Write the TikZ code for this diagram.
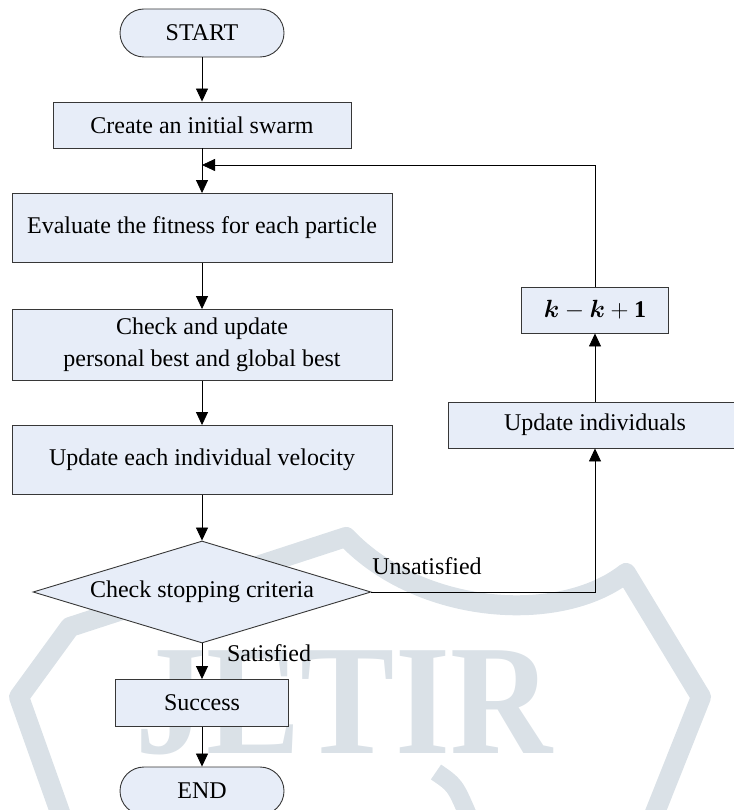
\documentclass[tikz,border=0pt]{standalone}
\usepackage{fontspec}
\setmainfont{Liberation Serif}
\usepackage{amsmath}
\usetikzlibrary{shapes.geometric,arrows.meta}
\definecolor{boxfill}{RGB}{231,237,248}
\definecolor{boxline}{RGB}{55,55,55}
\definecolor{wmark}{RGB}{218,225,231}
\tikzset{psobox/.style={draw=boxline,fill=boxfill,line width=0.9pt,inner sep=0pt,
    align=center,font=\fontsize{24}{32}\selectfont}}
\tikzset{psoterm/.style={psobox,rounded corners=24pt}}
\tikzset{psodec/.style={psobox,diamond,aspect=3.3}}
\tikzset{psolabel/.style={font=\fontsize{24}{28}\selectfont}}

\begin{document}
\begin{tikzpicture}[x=1pt,y=-1pt,line width=0.8pt,>={Triangle[length=13pt,width=12pt]}]
  \useasboundingbox (0,0) rectangle (733,810);

  % watermark
  \draw[wmark,line width=20pt,line join=round]
    (61,815) -- (19,697) -- (70,627) -- (346,537)
    .. controls (420,615) and (560,625) .. (626,573) -- (701,697) -- (654,815);
  \draw[wmark,line width=18pt] (436,772) .. controls (455,785) .. (468,815);
  \node[wmark,anchor=base,xscale=0.9,font=\bfseries\fontsize{157}{157}\selectfont] (mark) at (344,753) {JETIR};

  \node[psoterm,minimum width=164pt,minimum height=48pt] (start) at (202,33) {START};
  \node[psobox,minimum width=298pt,minimum height=46pt]  (init)  at (202,125) {Create an initial swarm};
  \node[psobox,minimum width=380pt,minimum height=69pt]  (eval)  at (202,228) {Evaluate the fitness for each particle};
  \node[psobox,minimum width=380pt,minimum height=71pt]  (best)  at (202,345) {Check and update\\personal best and global best};
  \node[psobox,minimum width=380pt,minimum height=69pt]  (vel)   at (202,460) {Update each individual velocity};
  \node[psodec,minimum width=338pt,minimum height=102pt] (stop)  at (202,592) {Check stopping criteria};
  \node[psobox,minimum width=173pt,minimum height=47pt]  (succ)  at (202,703) {Success};
  \node[psoterm,minimum width=164pt,minimum height=48pt] (end)   at (202,791) {END};

  \node[psobox,minimum width=147pt,minimum height=46pt]  (incr)  at (595,310) {$\boldsymbol{k} - \boldsymbol{k} + \mathbf{1}$};
  \node[psobox,minimum width=294pt,minimum height=46pt]  (indiv) at (595,425) {Update individuals};

  \coordinate (loop) at (202,165);

  \draw[->] (start) -- (init);
  \draw[->] (init) -- (eval);
  \draw[->] (eval) -- (best);
  \draw[->] (best) -- (vel);
  \draw[->] (vel) -- (stop);
  \draw[->] (stop) -- (succ);
  \draw[->] (succ) -- (end);
  \draw[->] (stop) -| (indiv);
  \draw[->] (indiv) -- (incr);
  \draw[->] (incr) |- (loop);

  \node[psolabel] (unsat) at (427,566) {Unsatisfied};
  \node[psolabel] (sat)   at (269,653) {Satisfied};
\end{tikzpicture}
\end{document}
